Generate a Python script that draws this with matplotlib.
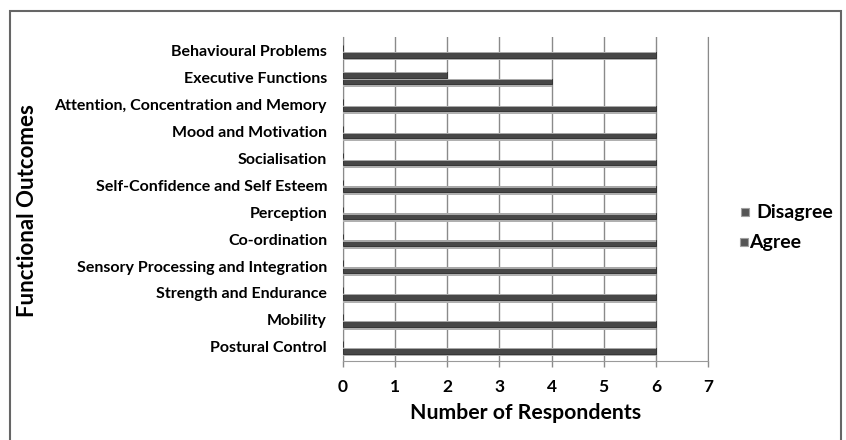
import numpy as np
import matplotlib.pyplot as plt
from matplotlib.patches import Rectangle

# survey answers per functional outcome (bottom to top)
categories = ['Postural Control', 'Mobility', 'Strength and Endurance',
              'Sensory Processing and Integration', 'Co-ordination', 'Perception',
              'Self-Confidence and Self Esteem', 'Socialisation', 'Mood and Motivation',
              'Attention, Concentration and Memory', 'Executive Functions',
              'Behavioural Problems']
agree = [6, 6, 6, 6, 6, 6, 6, 6, 6, 6, 4, 6]
disagree = [0, 0, 0, 0, 0, 0, 0, 0, 0, 0, 2, 0]
x_ticks = [0, 1, 2, 3, 4, 5, 6, 7]
series_names = ['Disagree', 'Agree']

plt.rcParams['font.family'] = ['Lato', 'DejaVu Sans']
plt.rcParams['font.weight'] = 'bold'

W, H = 846, 440
fig = plt.figure(figsize=(W / 100, H / 100), dpi=100)
ax = fig.add_axes([343 / W, 1 - 361 / H, 365 / W, 324 / H])

y = np.arange(len(categories))


def cylinder_bar(ax, ypos, values):
    # fake 3d bar: stippled shadow, dark body, light rim on top
    ax.barh(ypos - 0.14, values, height=0.14, color='#b0b0b0', zorder=3)
    ax.barh(ypos, values, height=0.21, color='#474747', edgecolor='#2a2a2a',
            linewidth=0.6, zorder=4)
    ax.barh(ypos + 0.08, values, height=0.05, color='#a8a8a8', zorder=5)


cylinder_bar(ax, y - 0.15, agree)
cylinder_bar(ax, y + 0.10, disagree)

ax.set_xlim(0, 7)
ax.set_ylim(-0.53, 11.51)
ax.set_xticks(x_ticks)
ax.set_xticklabels([str(t) for t in x_ticks], fontsize=12.5, fontweight='bold')
ax.set_yticks(y)
ax.set_yticklabels(categories, fontsize=11.5, fontweight='bold')
ax.tick_params(axis='y', length=0, pad=11.5)
ax.tick_params(axis='x', length=4, width=1, color='#8a8a8a', pad=9)

ax.grid(axis='x', color='#8a8a8a', linewidth=1.0, zorder=1)
ax.set_axisbelow(True)
ax.spines['top'].set_visible(False)
ax.spines['right'].set_color('#8a8a8a')
ax.spines['left'].set_color('#8a8a8a')
ax.spines['bottom'].set_color('#9a9a9a')

ax.set_xlabel('Number of Respondents', fontsize=15.3, fontweight='bold', labelpad=6)
fig.text(28 / W, 1 - 211 / H, 'Functional Outcomes', rotation=90, fontsize=16,
         fontweight='bold', ha='center', va='center')

# legend drawn by hand: small grey squares with labels
legend_pos = [(741, 756, 212), (740, 749, 242)]
for name, (mx, tx, ty) in zip(series_names, legend_pos):
    fig.add_artist(Rectangle((mx / W, 1 - (ty + 4) / H), 8 / W, 8 / H,
                             facecolor='#555555', edgecolor='#a0a0a0', linewidth=0.8,
                             transform=fig.transFigure))
    fig.text(tx / W, 1 - ty / H, name, fontsize=14, fontweight='bold',
             ha='left', va='center')

# chart border
fig.add_artist(Rectangle((10 / W, -0.1), 831 / W, 1.1 - 11 / H, fill=False,
                         edgecolor='#666666', linewidth=1.5,
                         transform=fig.transFigure))

fig.savefig('out.png', dpi=100)
